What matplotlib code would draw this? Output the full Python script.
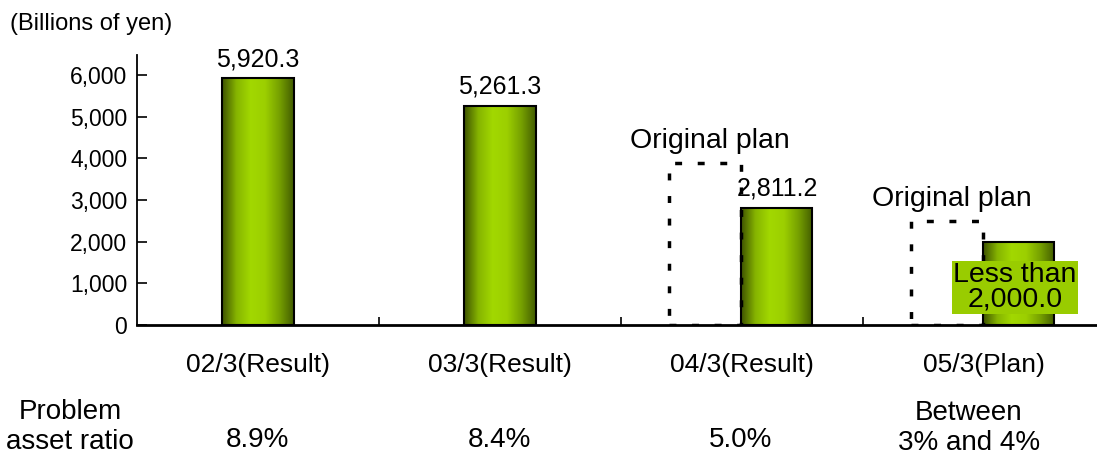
import numpy as np
import matplotlib.pyplot as plt
from matplotlib.colors import LinearSegmentedColormap

# data
categories = ['02/3(Result)', '03/3(Result)', '04/3(Result)', '05/3(Plan)']
results = [5920.3, 5261.3, 2811.2, 2000.0]
original_plan = [None, None, 3900, 2500]
ratio_labels = ['8.9%', '8.4%', '5.0%', 'Between\n3% and 4%']

plt.rcParams['font.family'] = ['Liberation Sans', 'DejaVu Sans']
narrow = ['Liberation Sans Narrow', 'Liberation Sans', 'DejaVu Sans']

fig = plt.figure(figsize=(10.97, 4.63), dpi=100)
ax = fig.add_axes([137 / 1097, 138 / 463, 968 / 1097, 270 / 463])

# shaded green bars
green = LinearSegmentedColormap.from_list('g', ['#3d5200', '#86b400', '#a2d800', '#9ccf00', '#76a000', '#425c00'])
grad = np.linspace(0, 1, 256).reshape(1, -1)
w = 0.295

for i, (val, plan) in enumerate(zip(results, original_plan)):
    x = i if plan is None else i + w / 2 - 0.005
    bar = ax.bar(x, val, width=w, facecolor='none', edgecolor='black', linewidth=1.5, zorder=3)[0]
    im = ax.imshow(grad, cmap=green, aspect='auto', zorder=2,
                   extent=[x - w / 2, x + w / 2, 0, val])
    im.set_clip_path(bar)
    if plan is not None:
        px = i - w / 2 - 0.005
        ax.bar(px, plan, width=w, fill=False, edgecolor='black', linewidth=2.5,
               linestyle=(0, (2, 4.5)), zorder=3)
        ax.annotate('Original plan', (px + 0.02, plan), xytext=(0, 6), textcoords='offset points',
                    ha='center', va='bottom', fontsize=20.5)

# value labels
for i in range(3):
    x = i if original_plan[i] is None else i + w / 2
    ax.annotate(f'{results[i]:,.1f}', (x, results[i]), xytext=(0, 5), textcoords='offset points',
                ha='center', va='bottom', fontsize=18)
ax.text(3 + w / 2 - 0.02, 900, f'Less than\n{results[3]:,.1f}', ha='center', va='center',
        fontsize=20.5, linespacing=0.95, zorder=5,
        bbox=dict(boxstyle='square,pad=0.05', facecolor='#99cc00', edgecolor='none'))

ax.set_xlim(-0.5, 3.5)
ax.set_ylim(0, 6480)
ax.set_yticks(range(0, 7000, 1000))
ax.set_yticklabels([f'{v:,}' for v in range(0, 7000, 1000)], fontsize=16.5)
ax.tick_params(axis='y', direction='in', length=7, width=1.2, pad=7)
ax.set_xticks(range(4))
ax.set_xticklabels(categories, fontsize=19, family=narrow)
ax.set_xticks([0.5, 1.5, 2.5], minor=True)
ax.tick_params(axis='x', which='major', length=0, pad=20)
ax.tick_params(axis='x', which='minor', direction='in', length=6, width=1.2)

for s in ['top', 'right']:
    ax.spines[s].set_visible(False)
ax.spines['left'].set_linewidth(1.3)
ax.spines['bottom'].set_linewidth(2)

fig.text(10 / 1097, 1 - 24 / 463, '(Billions of yen)', fontsize=17, va='center')
fig.text(70 / 1097, 1 - 427 / 463, 'Problem\nasset ratio', fontsize=20, family=narrow,
         ha='center', va='center', linespacing=1.2)
for i, lab in enumerate(ratio_labels):
    xf = (257 + 242 * i) / 1097
    yc = 440 if '\n' not in lab else 428
    fig.text(xf if i < 3 else 969 / 1097, 1 - yc / 463, lab, fontsize=20, family=narrow,
             ha='center', va='center', linespacing=1.2)

fig.savefig('out.png', dpi=100)
